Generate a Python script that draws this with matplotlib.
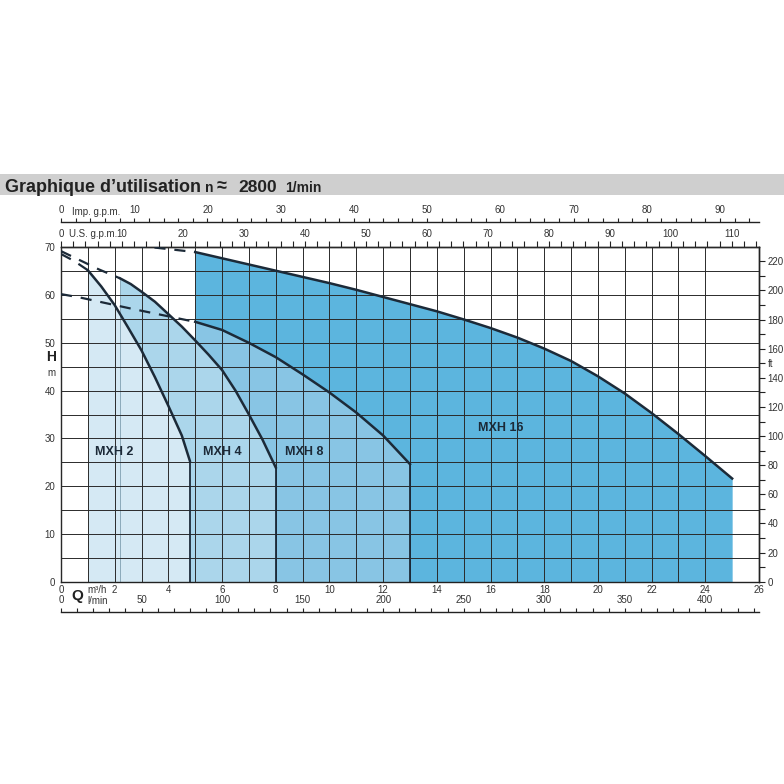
import numpy as np
import matplotlib; matplotlib.use('Agg')
import matplotlib.pyplot as plt
from matplotlib.patches import Rectangle
from matplotlib.ticker import MultipleLocator, FixedLocator

plt.rcParams['font.family'] = ['Liberation Sans', 'DejaVu Sans']

# pump curves, Q in m3/h, H in m
mxh2_q = [1.0, 1.5, 2.0, 2.5, 3.0, 3.5, 4.0, 4.5, 4.8]
mxh2_h = [65.2, 61.8, 57.9, 53.2, 48.4, 42.8, 36.8, 30.6, 25.3]
mxh4_q = [2.2, 2.6, 3.0, 3.5, 4.0, 4.5, 5.0, 5.5, 6.0, 6.5, 7.0, 7.5, 8.0]
mxh4_h = [63.5, 62.3, 60.7, 58.6, 56.0, 53.4, 50.5, 47.5, 44.3, 40.0, 35.0, 29.8, 23.9]
mxh8_q = [5, 6, 7, 8, 9, 10, 11, 12, 13]
mxh8_h = [54.4, 52.7, 50.0, 47.0, 43.4, 39.6, 35.4, 30.6, 24.6]
mxh16_q = list(range(5, 26))
mxh16_h = [69.0, 67.7, 66.4, 65.1, 63.8, 62.5, 61.1, 59.6, 58.1, 56.6, 54.9,
           53.1, 51.1, 48.8, 46.2, 43.0, 39.4, 35.3, 30.9, 26.3, 21.6]

# dashed extensions toward Q = 0
dash2_q, dash2_h = [0, 0.5, 1.0], [68.6, 67.1, 65.2]
dash4_q, dash4_h = [0, 0.85, 1.4, 2.2], [69.2, 66.9, 65.4, 63.5]
dash8_q, dash8_h = [0, 0.7, 2.5, 4.9], [60.2, 59.5, 57.3, 54.5]
dash16_q, dash16_h = [2.0, 3.4, 5.0], [70.8, 70.0, 69.0]

labels = ['MXH 2', 'MXH 4', 'MXH 8', 'MXH 16']
label_q = [1.27, 5.29, 8.34, 15.53]
label_h = [27.2, 27.2, 27.2, 32.2]
fills = ['#d5e9f4', '#abd6eb', '#88c5e4', '#5cb5de']

W = 784
def fx(x): return x / W
def fy(y): return 1 - y / W

ink = '#1c2a38'
fig = plt.figure(figsize=(7.84, 7.84), dpi=100)

# title band
fig.add_artist(Rectangle((0, fy(195)), 1, 21 / W, transform=fig.transFigure,
                         color='#cfcfcf', lw=0))
fig.text(fx(5), fy(191.5), 'Graphique d’utilisation', fontsize=13, weight='bold', color='#222')
fig.text(fx(205), fy(191.5), 'n', fontsize=10, weight='bold', color='#222')
fig.text(fx(217), fy(191.5), '≈', fontsize=13, weight='bold', color='#222')
fig.text(fx(238), fy(191.5), '2800', fontsize=12.5, weight='bold', color='#222')
fig.text(fx(285), fy(191.5), '1/min', fontsize=10, weight='bold', color='#222')

ax = fig.add_axes([fx(61), fy(581.7), 698 / W, 334.4 / W])
ax.set_xlim(0, 26); ax.set_ylim(0, 70)

curves = [(mxh16_q, mxh16_h), (mxh8_q, mxh8_h), (mxh4_q, mxh4_h), (mxh2_q, mxh2_h)]
for (q, h), c in zip(curves, fills[::-1]):
    ax.fill_between(q, h, 0, color=c, lw=0, zorder=1)
for i, (q, h) in enumerate(curves):
    ax.plot(q, h, color=ink, lw=1.8, zorder=3, solid_joinstyle='round')
    if i > 0:
        ax.plot([q[-1], q[-1]], [h[-1], 0], color=ink, lw=1.3, zorder=3)
ax.plot([mxh4_q[0]] * 2, [mxh4_h[0], 0], color='#7f9fb0', lw=0.6, zorder=2)

for q, h in [(dash2_q, dash2_h), (dash4_q, dash4_h), (dash8_q, dash8_h), (dash16_q, dash16_h)]:
    ax.plot(q, h, color=ink, lw=1.6, dashes=(5, 4), zorder=3)

for t, q, h in zip(labels, label_q, label_h):
    ax.text(q, h, t, fontsize=9, weight='bold', color=ink, va='center', ha='left', zorder=4)

# grid
ax.xaxis.set_major_locator(FixedLocator(range(0, 27, 2)))
ax.xaxis.set_minor_locator(FixedLocator(range(1, 24, 2)))
ax.yaxis.set_major_locator(FixedLocator(range(0, 71, 10)))
ax.yaxis.set_minor_locator(FixedLocator(range(5, 70, 10)))
ax.grid(which='both', color='#2a2a2a', lw=0.7)
ax.set_axisbelow(False)
ax.tick_params(which='both', length=0, labelsize=7, labelcolor='#333')
ax.tick_params(axis='y', pad=4)
ax.tick_params(axis='x', pad=2.5)
for s in ax.spines.values():
    s.set_linewidth(1.0); s.set_color('#222')

tk = dict(which='both', direction='out', color='#222', width=0.8,
          labelsize=7, labelcolor='#333')

us = ax.secondary_xaxis('top', functions=(lambda q: q * 4.4029, lambda g: g / 4.4029))
us.set_xticks(range(0, 111, 10))
us.xaxis.set_minor_locator(MultipleLocator(2))
us.tick_params(length=4.5, pad=1.5, **tk)

imp = ax.secondary_xaxis(360 / 334.4, functions=(lambda q: q * 3.6662, lambda g: g / 3.6662))
imp.set_xticks(range(0, 91, 10))
imp.xaxis.set_minor_locator(MultipleLocator(2))
imp.tick_params(length=3, pad=1.5, **tk)

lmin = ax.secondary_xaxis(-30 / 334.4, functions=(lambda q: q * 1000 / 60, lambda l: l * 60 / 1000))
lmin.set_alignment('top')
lmin.set_xticks(range(0, 401, 50))
lmin.xaxis.set_minor_locator(MultipleLocator(10))
lmin.tick_params(length=3, pad=1.5, **tk)

ft = ax.secondary_yaxis('right', functions=(lambda h: h * 3.28084, lambda f: f / 3.28084))
ft.set_yticks(range(0, 221, 20))
ft.yaxis.set_minor_locator(MultipleLocator(10))
ft.tick_params(length=4, pad=2, **tk)

for sec in (us, imp, lmin, ft):
    for s in sec.spines.values():
        s.set_linewidth(1.0); s.set_color('#222')

# axis captions
fig.text(fx(72), fy(212), 'Imp. g.p.m.', fontsize=7, color='#333', va='center')
fig.text(fx(69), fy(234), 'U.S. g.p.m.', fontsize=7, color='#333', va='center')
fig.text(fx(51), fy(357), 'H', fontsize=10, weight='bold', color='#222', ha='center', va='center')
fig.text(fx(51), fy(373), 'm', fontsize=7, color='#333', ha='center', va='center')
fig.text(fx(771), fy(364), 'ft', fontsize=7, color='#333', ha='center', va='center')
fig.text(fx(87), fy(590), 'm³/h', fontsize=7, color='#333', va='center')
fig.text(fx(77), fy(596), 'Q', fontsize=11, weight='bold', color='#222', ha='center', va='center')
fig.text(fx(87), fy(601.5), 'l/min', fontsize=7, color='#333', va='center')

fig.savefig('out.png', dpi=100)
